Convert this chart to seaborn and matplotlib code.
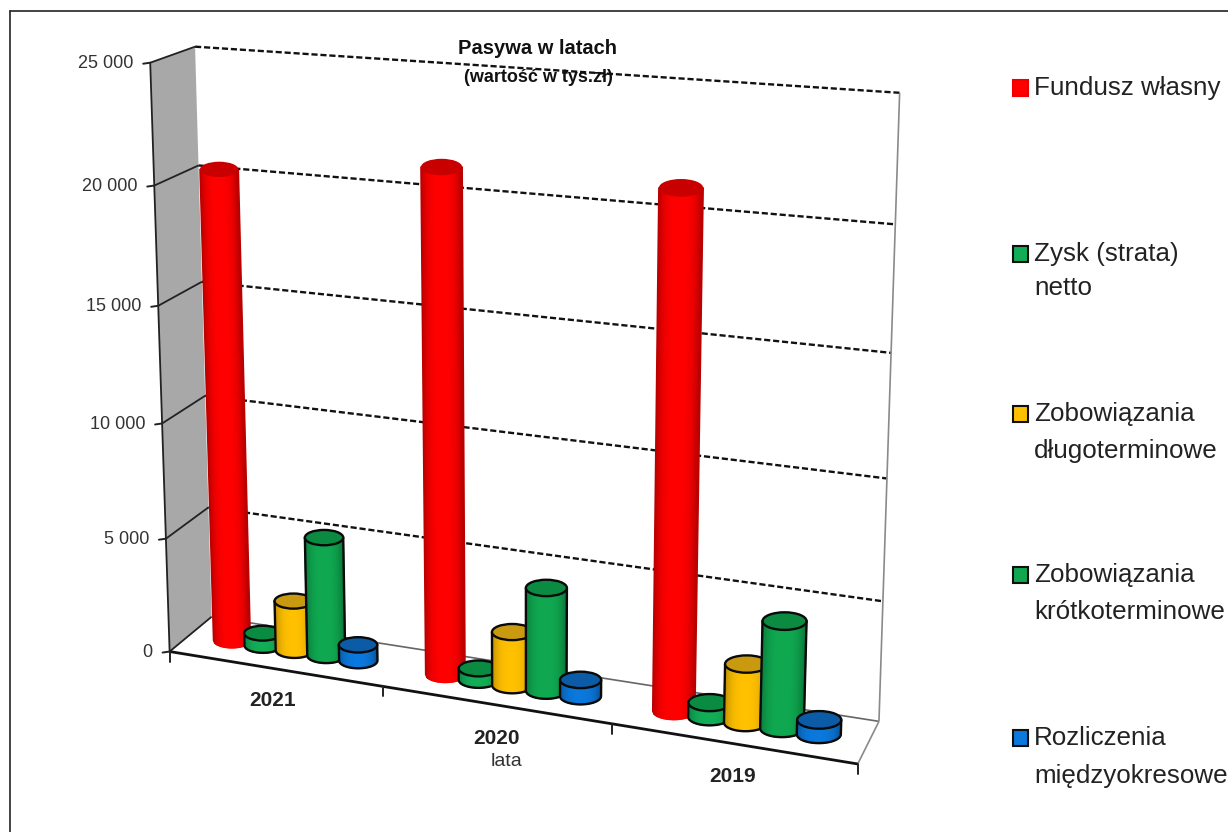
import numpy as np
import pandas as pd
import matplotlib
matplotlib.use("Agg")
import matplotlib.pyplot as plt
from matplotlib.collections import PolyCollection
from matplotlib.patches import Polygon, Rectangle, Ellipse
import seaborn as sns

# ---- data ----
years = ["2021", "2020", "2019"]
fundusz = [20400, 21250, 21200]
zysk = [550, 500, 600]
dlugo = [2200, 2300, 2450]
krotko = [5200, 4400, 4450]
rozliczenia = [700, 700, 600]
series_names = ["Fundusz własny", "Zysk (strata) netto", "Zobowiązania długoterminowe",
                "Zobowiązania krótkoterminowe", "Rozliczenia międzyokresowe"]
legend_lines = [["Fundusz własny"], ["Zysk (strata)", "netto"], ["Zobowiązania", "długoterminowe"],
                ["Zobowiązania", "krótkoterminowe"], ["Rozliczenia", "międzyokresowe"]]
colors = ["#ff0000", "#12ad57", "#ffc000", "#0fa850", "#0a78dc"]
top_colors = ["#c90000", "#0b8a42", "#c99a10", "#0b8a42", "#0b5ba6"]
y_ticks = [0, 5000, 10000, 15000, 20000, 25000]
y_labels = ["0", "5 000", "10 000", "15 000", "20 000", "25 000"]
y_max = 25000

W, H = 1228, 832
sns.set_theme(style="white")
plt.rcParams["font.family"] = ["Liberation Sans", "DejaVu Sans"]
fig = plt.figure(figsize=(W / 100, H / 100), dpi=100, facecolor="white")

# seaborn computes the grouped bar geometry on a hidden data axes
df = pd.DataFrame({
    "rok": years * 5,
    "seria": np.repeat(series_names, 3),
    "wartosc": fundusz + zysk + dlugo + krotko + rozliczenia,
})
data_ax = fig.add_axes([0.1, 0.1, 0.6, 0.7])
sns.barplot(data=df, x="rok", y="wartosc", hue="seria", order=years, hue_order=series_names,
            palette=colors, width=0.75, legend=False, errorbar=None, ax=data_ax)
data_ax.set_xlim(-0.5, 2.5)
data_ax.set_ylim(0, y_max)
data_ax.set_axis_off()

# overlay in picture coordinates
ov = fig.add_axes([0, 0, 1, 1])
ov.set_xlim(0, W)
ov.set_ylim(H, 0)
ov.set_axis_off()
ov.patch.set_alpha(0)

# camera: projective map (category, value share, depth) -> picture
cal_3d = [(0, 0, 0), (1, 0, 0), (2, 0, 0), (3, 0, 0), (0, 1, 0), (0, .8, 0),
          (0, 0, 1), (3, 0, 1), (0, 1, 1), (3, 1, 1), (0, .8, 1), (3, .8, 1),
          (3, .6, 1), (3, .4, 1), (3, .2, 1)]
cal_2d = [(170, 650), (382, 688), (612, 726), (858, 762), (150, 63), (155, 185),
          (212, 617), (879, 721), (195, 47), (900, 93), (198, 165), (895, 224),
          (891, 353), (887, 479), (883, 601)]
A, b = [], []
for (x, y, z), (u, v) in zip(cal_3d, cal_2d):
    A.append([x, y, z, 1, 0, 0, 0, 0, -u * x, -u * y, -u * z]); b.append(u)
    A.append([0, 0, 0, 0, x, y, z, 1, -v * x, -v * y, -v * z]); b.append(v)
p = np.linalg.lstsq(np.array(A, float), np.array(b, float), rcond=None)[0]
P = np.append(p, 1).reshape(3, 4)


def proj(cat, value, depth):
    """cat in data units of the category axis, value in data units, depth 0 front .. 1 back"""
    q = P @ np.array([cat + 0.5, value / y_max, depth, 1.0])
    return q[0] / q[2], q[1] / q[2]


def line(a, b, **kw):
    ov.plot([a[0], b[0]], [a[1], b[1]], solid_capstyle="butt", **kw)


# walls
ov.add_patch(Polygon([proj(-.5, 0, 0), proj(-.5, y_max, 0), proj(-.5, y_max, 1), proj(-.5, 0, 1)],
                     closed=True, fc="#a8a8a8", ec="none", zorder=1))
for v in y_ticks:
    line(proj(-.5, v, 0), proj(-.5, v, 1), color="#222222", lw=1.3, zorder=2)
    if v > 0:
        line(proj(-.5, v, 1), proj(2.5, v, 1), color="#111111", lw=1.7, zorder=2,
             linestyle=(0, (2.6, 1.2)))
line(proj(-.5, 0, 0), proj(-.5, y_max, 0), color="#222222", lw=1.3, zorder=2)
line(proj(-.5, 0, 1), proj(2.5, 0, 1), color="#666666", lw=1.2, zorder=2)
line(proj(2.5, 0, 1), proj(2.5, y_max, 1), color="#8a8a8a", lw=1.2, zorder=2)
line(proj(2.5, 0, 0), proj(2.5, 0, 1), color="#8a8a8a", lw=1.2, zorder=2)

# front axis and ticks
line(proj(-.5, 0, 0), proj(2.5, 0, 0), color="#111111", lw=2.0, zorder=3)
for c in [-.5, .5, 1.5, 2.5]:
    x0, y0 = proj(c, 0, 0)
    ov.plot([x0, x0], [y0, y0 + 10], color="#222222", lw=1.4, zorder=3)
for v, lab in zip(y_ticks, y_labels):
    x0, y0 = proj(-.5, v, 0)
    ov.plot([x0 - 7, x0], [y0 + 1, y0], color="#222222", lw=1.4, zorder=3)
    ov.text(x0 - 17, y0 + 1, lab, ha="right", va="center", fontsize=13, color="#333333", zorder=6)


# cylinders from the bars seaborn laid out
def shade(col, t):
    rgb = np.array(matplotlib.colors.to_rgb(col))
    return tuple(rgb * (0.70 + 0.30 * (1 - abs(t) ** 3)))


DIAM = 1.19
RATIO = 0.40
bars = []
for i, cont in enumerate(data_ax.containers):
    for bar in cont:
        bars.append((bar.get_x() + bar.get_width() / 2, bar.get_width(), bar.get_height(), i))
        bar.set_visible(False)
bars.sort()

z = 10
th_b = np.linspace(np.pi, 0, 40)   # lower half of an ellipse, left to right
for cx, wd, val, i in bars:
    xb, yb = proj(cx, 0, .5)
    xt, yt = proj(cx, val, .5)
    rb = (proj(cx + wd * DIAM / 2, 0, .5)[0] - proj(cx - wd * DIAM / 2, 0, .5)[0]) / 2
    rt = (proj(cx + wd * DIAM / 2, val, .5)[0] - proj(cx - wd * DIAM / 2, val, .5)[0]) / 2
    # body as vertical strips, painted left to right with overlapping edges
    ts = np.linspace(-1, 1, 31)
    polys, cols = [], []
    for t0, t1 in zip(ts[:-1], ts[1:]):
        s0, s1 = np.sqrt(1 - t0 ** 2), np.sqrt(1 - t1 ** 2)
        polys.append([(xt + rt * t0, yt), (xt + rt * t1, yt),
                      (xb + rb * t1, yb + rb * RATIO * s1), (xb + rb * t0, yb + rb * RATIO * s0)])
        cols.append(shade(colors[i], (t0 + t1) / 2))
    ov.add_collection(PolyCollection(polys, facecolors=cols, edgecolors=cols, linewidths=1.1, zorder=z))
    ec = "none" if i == 0 else "#0a0a0a"
    if i != 0:
        outline = [(xt - rt, yt), (xb - rb, yb)]
        outline += [(xb + rb * np.cos(a), yb + rb * RATIO * np.sin(a)) for a in th_b]
        outline += [(xt + rt, yt)]
        ov.plot(*zip(*outline), color="#0a0a0a", lw=1.7, zorder=z + 1)
    ov.add_patch(Ellipse((xt, yt), 2 * rt, 2 * rt * RATIO, fc=top_colors[i], ec=ec,
                         lw=1.7, zorder=z + 1))
    z += 2

# category labels
ov.text(273, 701, years[0], ha="center", va="center", fontsize=15, fontweight="bold", color="#222222", zorder=6)
ov.text(496, 738, years[1], ha="center", va="center", fontsize=15, fontweight="bold", color="#222222", zorder=6)
ov.text(733, 777, years[2], ha="center", va="center", fontsize=15, fontweight="bold", color="#222222", zorder=6)
ov.text(506, 762, "lata", ha="center", va="center", fontsize=14, color="#333333", zorder=6)

# title
ov.text(538, 48, "Pasywa w latach", ha="center", va="center", fontsize=14.5, fontweight="bold", color="#111111", zorder=200)
ov.text(538, 78, "(wartość w tys.zł)", ha="center", va="center", fontsize=13, fontweight="bold", color="#111111", zorder=200)

# legend
leg_y = [88, 254, 414, 575, 738]
leg_gap = [0, 34, 37, 37, 38]
for name, col, y0, gap, lines in zip(series_names, colors, leg_y, leg_gap, legend_lines):
    ec = "#ee0000" if col == colors[0] else "#101010"
    ov.add_patch(Rectangle((1013, y0 - 8), 15, 16, fc=col, ec=ec, lw=1.5, zorder=6))
    for k, tx in enumerate(lines):
        ov.text(1034, y0 + k * gap, tx, ha="left", va="center", fontsize=18.7, color="#222222", zorder=6)

# outer frame
ov.plot([9.5, 9.5], [H, 10.5], color="#222222", lw=1.2, zorder=300)
ov.plot([9.5, W], [10.5, 10.5], color="#222222", lw=1.2, zorder=300)

fig.savefig("out.png", dpi=100, facecolor="white")
